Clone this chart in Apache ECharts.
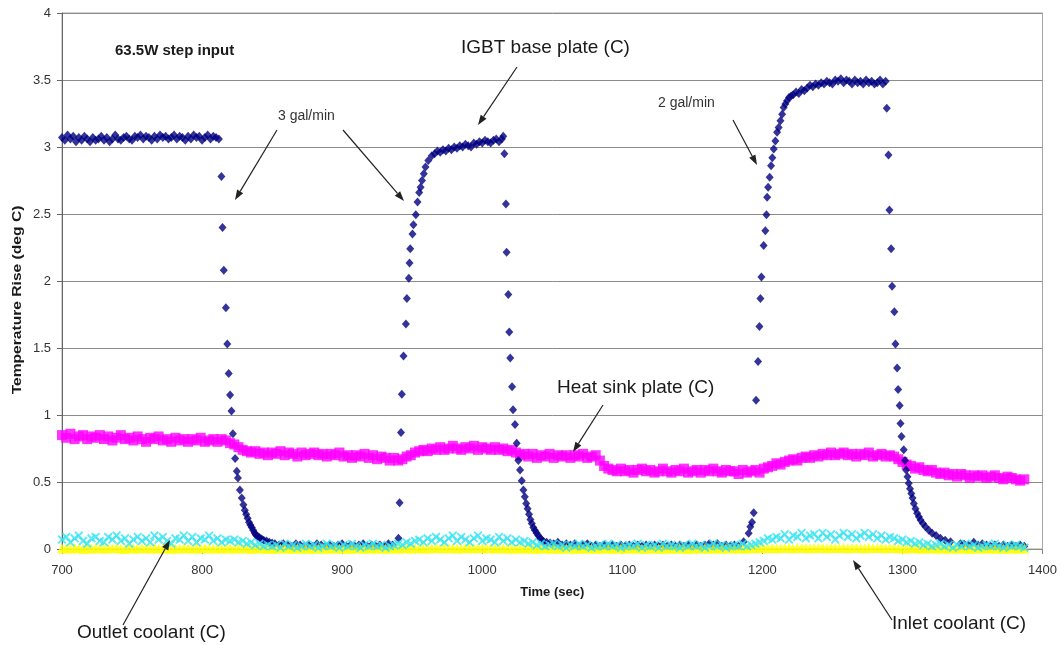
<!DOCTYPE html>
<html lang="en">
<head>
    <meta charset="UTF-8">
    <title>63.5W step input</title>
</head>
<body style="margin:0;background:#fff;">
<script src="https://cdn.jsdelivr.net/npm/echarts@6/dist/echarts.min.js"></script>

<div id="main" style="width: 1060px;height:645px;"></div>
<script type="text/javascript">

// x axis ticks (sec) and y axis ticks (deg C)
var timeTicks = [700, 800, 900, 1000, 1100, 1200, 1300, 1400];
var tempTicks = [0, 0.5, 1, 1.5, 2, 2.5, 3, 3.5, 4];

// IGBT base plate, [time, rise]
var igbtBase = [
    [700,3.07],[702,3.05],[704,3.09],[706,3.06],[708,3.08],[710,3.04],[712,3.07],[714,3.05],[716,3.08],[718,3.06],
    [720,3.04],[722,3.07],[724,3.05],[726,3.06],[728,3.08],[730,3.05],[732,3.07],[734,3.04],[736,3.06],[738,3.09],
    [740,3.06],[742,3.05],[744,3.07],[746,3.08],[748,3.06],[750,3.05],[752,3.08],[754,3.07],[756,3.09],[758,3.06],
    [760,3.08],[762,3.07],[764,3.05],[766,3.08],[768,3.06],[770,3.09],[772,3.07],[774,3.08],[776,3.06],[778,3.07],
    [780,3.09],[782,3.06],[784,3.08],[786,3.07],[788,3.05],[790,3.08],[792,3.06],[794,3.09],[796,3.07],[798,3.08],
    [800,3.05],[802,3.07],[804,3.09],[806,3.06],[808,3.08],[810,3.07],[812,3.06],
    [813.8,2.78],[814.6,2.40],[815.5,2.08],[817,1.80],[818,1.53],[819,1.31],[820,1.15],[821,1.03],[822,0.86],
    [823.6,0.675],[824.8,0.58],[825.6,0.53],[827,0.44],[828.3,0.38],[829.5,0.33],[830.5,0.29],[831.5,0.26],
    [832.5,0.23],[833.5,0.20],[834.5,0.18],[835.5,0.16],[836.5,0.14],[837.5,0.12],[838.5,0.105],[839.5,0.095],
    [841,0.085],[842.5,0.075],[844,0.065],[846,0.06],[848,0.05],[850,0.045],[852,0.04],
    [855,0.03],[858,0.04],[861,0.03],[864,0.02],[867,0.04],[870,0.03],[873,0.02],[876,0.03],[879,0.02],[882,0.04],
    [885,0.03],[888,0.02],[891,0.03],[894,0.02],[897,0.03],[900,0.04],[903,0.02],[906,0.03],[909,0.02],[912,0.03],
    [915,0.04],[918,0.02],[921,0.03],[924,0.02],[927,0.03],[930,0.02],[933,0.04],[936,0.03],
    [940.2,0.08],[941,0.345],[942,0.87],[942.6,1.155],[943.8,1.44],[945.5,1.68],[946.2,1.87],[947.6,2.02],
    [948.1,2.135],[948.6,2.24],[950.2,2.35],[950.9,2.42],[952.6,2.495],[953.8,2.59],[955,2.66],[956,2.70],
    [957,2.75],[958.3,2.80],[959.5,2.85],[961.5,2.90],[964,2.935],[966,2.95],[968,2.97],[970,2.96],[972,2.98],
    [974,2.97],[976,2.99],[978,2.98],[980,3.00],[982,2.99],[984,3.01],[986,3.00],[988,3.02],[990,3.01],[992,3.00],
    [994,3.03],[996,3.02],[998,3.04],[1000,3.03],[1002,3.05],[1004,3.04],[1006,3.03],[1008,3.05],[1010,3.06],
    [1012,3.04],[1014,3.06],[1015,3.08],
    [1015.8,2.95],[1016.9,2.575],[1017.4,2.215],[1018.6,1.90],[1019.3,1.62],[1020,1.425],[1021.3,1.21],[1022,1.04],
    [1023.4,0.93],[1024.6,0.79],[1025.8,0.66],[1027,0.59],[1028.2,0.51],[1029.4,0.44],[1030.4,0.39],[1031.4,0.34],
    [1032.4,0.30],[1033.4,0.26],[1034.4,0.22],[1035.4,0.19],[1036.5,0.16],[1037.6,0.14],[1038.8,0.12],[1040,0.10],
    [1041.4,0.08],[1042.8,0.065],[1044,0.055],[1046,0.05],[1048.5,0.045],
    [1051,0.04],[1054,0.05],[1057,0.03],[1060,0.04],[1063,0.03],[1066,0.04],[1069,0.02],[1072,0.03],[1075,0.04],
    [1078,0.02],[1081,0.03],[1084,0.02],[1087,0.03],[1090,0.02],[1093,0.03],[1096,0.02],[1099,0.03],[1102,0.02],
    [1105,0.03],[1108,0.02],[1111,0.03],[1114,0.02],[1117,0.03],[1120,0.02],[1123,0.03],[1126,0.02],[1129,0.03],
    [1132,0.02],[1135,0.03],[1138,0.02],[1141,0.03],[1144,0.02],[1147,0.03],[1150,0.02],[1153,0.03],[1156,0.02],
    [1159,0.03],[1162,0.04],[1165,0.03],[1168,0.04],[1171,0.02],[1174,0.03],[1177,0.02],[1180,0.03],[1183,0.02],
    [1186.6,0.055],[1190.2,0.117],[1191.4,0.166],[1192.6,0.20],[1193.8,0.27],[1195.5,1.11],[1196.9,1.40],
    [1197.9,1.66],[1198.6,1.87],[1199.3,2.03],[1200.9,2.265],[1202.1,2.375],[1202.9,2.495],[1203.4,2.625],
    [1204.1,2.70],[1205.2,2.775],[1206.2,2.86],[1207.1,2.92],[1208.1,2.985],[1209.3,3.045],[1210.5,3.11],
    [1211.6,3.145],[1212.9,3.195],[1214.1,3.245],[1215.2,3.295],[1216.4,3.32],[1217.6,3.345],[1219,3.37],[1220.5,3.38],
    [1222,3.39],[1224,3.41],[1226,3.40],[1228,3.43],[1230,3.42],[1232,3.44],[1234,3.46],[1236,3.45],[1238,3.47],
    [1240,3.46],[1242,3.48],[1244,3.47],[1246,3.49],[1248,3.48],[1250,3.47],[1252,3.50],[1254,3.49],[1256,3.51],
    [1258,3.48],[1260,3.50],[1262,3.49],[1264,3.47],[1266,3.50],[1268,3.48],[1270,3.49],[1272,3.47],[1274,3.50],
    [1276,3.48],[1278,3.49],[1280,3.47],[1282,3.48],[1284,3.50],[1286,3.47],[1288,3.49],
    [1288.8,3.29],[1290,2.94],[1290.7,2.53],[1291.9,2.24],[1292.6,1.96],[1294.2,1.77],[1295,1.53],[1296.2,1.35],
    [1296.9,1.19],[1298,1.07],[1298.6,0.936],[1299.3,0.84],[1300.9,0.74],[1301.8,0.66],[1302.6,0.59],[1303.6,0.54],
    [1304.5,0.49],[1305.4,0.45],[1306.3,0.415],[1307.2,0.38],[1308.1,0.34],[1309.3,0.30],[1310.5,0.266],
    [1311.7,0.24],[1312.9,0.216],[1314.6,0.19],[1316.4,0.166],[1318.8,0.14],[1321.2,0.117],[1324,0.10],
    [1327.1,0.08],[1330.5,0.065],[1334.3,0.055],[1341.4,0.04],[1350.9,0.05],
    [1344,0.035],[1347,0.03],[1354,0.03],[1357,0.04],[1360,0.03],[1363,0.02],[1366,0.03],[1369,0.02],
    [1372,0.03],[1375,0.02],[1378,0.03],[1381,0.02],[1384,0.03],[1387,0.02]
];

// the other three channels were logged every 3 s from 700 s
var logStart = 700;
var logStep = 3;

var heatSink = [
    0.85,0.83,0.86,0.82,0.84,0.85,0.82,0.84,0.83,0.85,
    0.82,0.84,0.81,0.83,0.85,0.82,0.83,0.81,0.84,0.82,
    0.80,0.83,0.82,0.84,0.81,0.82,0.80,0.83,0.81,0.82,
    0.80,0.82,0.81,0.83,0.80,0.81,0.82,0.80,0.82,0.81,
    0.79,0.78,0.76,0.74,0.73,0.72,0.73,0.71,0.72,0.70,
    0.72,0.71,0.73,0.70,0.72,0.71,0.69,0.72,0.70,0.71,
    0.72,0.70,0.71,0.69,0.71,0.70,0.72,0.69,0.70,0.68,
    0.70,0.69,0.71,0.68,0.70,0.67,0.69,0.68,0.66,0.68,
    0.66,0.67,0.69,0.70,0.72,0.73,0.74,0.73,0.75,0.74,
    0.76,0.74,0.75,0.77,0.75,0.74,0.76,0.75,0.77,0.74,
    0.76,0.75,0.74,0.76,0.74,0.75,0.73,0.74,0.72,0.70,
    0.71,0.69,0.71,0.68,0.70,0.69,0.71,0.68,0.70,0.69,
    0.70,0.68,0.70,0.69,0.71,0.68,0.69,0.70,0.66,0.62,
    0.60,0.59,0.58,0.60,0.58,0.59,0.57,0.59,0.60,0.58,
    0.59,0.57,0.58,0.60,0.58,0.57,0.59,0.58,0.60,0.57,
    0.58,0.59,0.57,0.59,0.58,0.60,0.58,0.57,0.59,0.58,
    0.58,0.56,0.59,0.57,0.58,0.59,0.57,0.60,0.61,0.62,
    0.64,0.63,0.65,0.66,0.67,0.66,0.68,0.69,0.68,0.70,
    0.69,0.71,0.70,0.72,0.70,0.71,0.72,0.70,0.71,0.69,
    0.71,0.70,0.72,0.69,0.70,0.71,0.69,0.70,0.69,0.67,
    0.65,0.63,0.62,0.60,0.61,0.59,0.58,0.59,0.57,0.56,
    0.57,0.55,0.56,0.54,0.56,0.55,0.53,0.55,0.54,0.55,
    0.53,0.54,0.55,0.53,0.52,0.54,0.53,0.52,0.51,0.52
];

var inletCoolant = [
    0.004,0.006,0.003,0.007,0.005,0.002,0.006,0.004,0.008,0.005,
    0.003,0.006,0.005,0.007,0.004,0.002,0.005,0.006,0.003,0.007,
    0.005,0.004,0.008,0.003,0.006,0.005,0.002,0.006,0.004,0.007,
    0.005,0.003,0.006,0.004,0.008,0.005,0.003,0.006,0.004,0.005,
    0.006,0.003,0.005,0.007,0.004,0.002,0.005,0.006,0.003,0.004,
    0.002,0.005,0.003,0.006,0.004,0.001,0.005,0.003,0.004,0.002,
    0.004,0.003,0.006,0.002,0.005,0.003,0.004,0.006,0.002,0.005,
    0.003,0.005,0.002,0.004,0.006,0.003,0.005,0.002,0.004,0.006,
    0.004,0.007,0.005,0.003,0.006,0.008,0.004,0.006,0.005,0.007,
    0.006,0.008,0.005,0.007,0.004,0.006,0.009,0.005,0.007,0.006,
    0.008,0.005,0.007,0.004,0.006,0.005,0.003,0.006,0.004,0.005,
    0.003,0.005,0.004,0.002,0.005,0.003,0.004,0.006,0.002,0.004,
    0.003,0.005,0.002,0.004,0.003,0.006,0.004,0.002,0.005,0.003,
    0.004,0.002,0.005,0.003,0.004,0.006,0.003,0.005,0.002,0.004,
    0.005,0.003,0.004,0.002,0.006,0.004,0.003,0.005,0.004,0.002,
    0.004,0.005,0.003,0.006,0.002,0.004,0.005,0.003,0.004,0.006,
    0.003,0.005,0.004,0.006,0.005,0.007,0.006,0.008,0.005,0.007,
    0.006,0.008,0.007,0.009,0.006,0.008,0.007,0.010,0.006,0.008,
    0.007,0.009,0.006,0.008,0.010,0.007,0.008,0.006,0.009,0.007,
    0.008,0.006,0.009,0.007,0.008,0.010,0.006,0.008,0.007,0.005,
    0.006,0.004,0.007,0.005,0.003,0.006,0.004,0.005,0.003,0.006,
    0.004,0.002,0.005,0.003,0.006,0.004,0.002,0.005,0.003,0.004,
    0.005,0.003,0.004,0.006,0.002,0.005,0.003,0.004,0.005,0.003
];

var outletCoolant = [
    0.07,0.09,0.05,0.08,0.10,0.06,0.04,0.08,0.09,0.06,
    0.05,0.09,0.07,0.10,0.06,0.08,0.04,0.07,0.09,0.06,
    0.08,0.05,0.10,0.07,0.09,0.06,0.04,0.08,0.07,0.10,
    0.06,0.09,0.05,0.08,0.07,0.10,0.06,0.08,0.05,0.07,
    0.06,0.07,0.05,0.06,0.04,0.05,0.03,0.04,0.02,0.03,
    0.02,0.03,0.01,0.04,0.02,0.03,0.01,0.02,0.04,0.02,
    0.03,0.01,0.02,0.04,0.02,0.03,0.01,0.03,0.02,0.04,
    0.02,0.01,0.03,0.02,0.04,0.02,0.03,0.01,0.02,0.03,
    0.04,0.03,0.05,0.04,0.06,0.07,0.05,0.08,0.06,0.09,
    0.07,0.05,0.08,0.10,0.06,0.09,0.07,0.05,0.08,0.10,
    0.06,0.08,0.07,0.05,0.09,0.06,0.08,0.05,0.07,0.05,
    0.06,0.04,0.05,0.03,0.04,0.02,0.03,0.04,0.02,0.03,
    0.01,0.03,0.02,0.04,0.02,0.03,0.01,0.02,0.03,0.02,
    0.04,0.02,0.03,0.01,0.02,0.03,0.02,0.04,0.01,0.03,
    0.02,0.03,0.01,0.04,0.02,0.03,0.02,0.01,0.03,0.02,
    0.04,0.02,0.03,0.01,0.02,0.04,0.02,0.03,0.01,0.02,
    0.03,0.02,0.04,0.02,0.03,0.04,0.05,0.06,0.08,0.07,
    0.09,0.08,0.11,0.07,0.10,0.09,0.12,0.08,0.10,0.11,
    0.08,0.12,0.09,0.11,0.07,0.10,0.12,0.09,0.11,0.08,
    0.10,0.12,0.09,0.11,0.08,0.10,0.07,0.09,0.08,0.06,
    0.07,0.05,0.06,0.04,0.05,0.03,0.04,0.02,0.03,0.04,
    0.02,0.03,0.01,0.03,0.02,0.04,0.02,0.03,0.01,0.02,
    0.03,0.02,0.04,0.02,0.01,0.03,0.02,0.03,0.02,0.01
];

function logged(values) {
    return values.map(function (v, i) { return [logStart + i * logStep, v]; });
}

var FONT = '"Liberation Sans", Arial, sans-serif';
var INK = '#1a1a1a';
var CROSS = 'path://M0,1.5L1.5,0L5,3.5L8.5,0L10,1.5L6.5,5L10,8.5L8.5,10L5,6.5L1.5,10L0,8.5L3.5,5Z';

// arrow = line + filled head, pixel coords
function arrow(x1, y1, x2, y2) {
    var a = Math.atan2(y2 - y1, x2 - x1), L = 10, W = 3.5;
    var bx = x2 - L * Math.cos(a), by = y2 - L * Math.sin(a);
    return [
        {type: 'line', shape: {x1: x1, y1: y1, x2: bx, y2: by}, style: {stroke: '#222', lineWidth: 1.2}, z: 100},
        {type: 'polygon', shape: {points: [[x2, y2], [bx + W * Math.sin(a), by - W * Math.cos(a)], [bx - W * Math.sin(a), by + W * Math.cos(a)]]},
            style: {fill: '#222'}, z: 100}
    ];
}

function label(text, x, y, size, weight, color) {
    return {
        type: 'text', x: x, y: y, z: 100,
        style: {text: text, fontSize: size, fontWeight: weight || 'normal', fontFamily: FONT,
            fill: color || INK, align: 'left', verticalAlign: 'middle'}
    };
}

var notes = [
    label('63.5W step input', 115, 51, 15, 'bold'),
    label('IGBT base plate (C)', 461, 48, 19, 'normal'),
    label('3 gal/min', 278, 116, 14, 'normal', '#333'),
    label('2 gal/min', 658, 103, 14, 'normal', '#333'),
    label('Heat sink plate (C)', 557, 388, 19, 'normal'),
    label('Outlet coolant (C)', 77, 633, 19, 'normal'),
    label('Inlet coolant (C)', 892, 624, 19, 'normal'),
    {
        type: 'text', x: 18, y: 300, rotation: Math.PI / 2, scaleX: 1.3, z: 100,
        style: {text: 'Temperature Rise (deg C)', fontSize: 12, fontWeight: 'bold', fontFamily: FONT,
            fill: INK, align: 'center', verticalAlign: 'middle'}
    }
].concat(
    arrow(277, 130, 235, 200),
    arrow(343, 130, 404, 201),
    arrow(517, 67, 478, 125),
    arrow(733, 120, 757, 165),
    arrow(603, 405, 573, 452),
    arrow(123, 625, 170, 540),
    arrow(892, 620, 853, 560)
);

var myChart = echarts.init(document.getElementById('main'));

myChart.setOption({
    backgroundColor: '#fff',
    animation: false,
    grid: {left: 62, right: 17, top: 13, bottom: 96, show: true, borderColor: '#a6a6a6', borderWidth: 1},
    xAxis: {
        type: 'value',
        min: timeTicks[0],
        max: timeTicks[timeTicks.length - 1],
        interval: 100,
        name: 'Time (sec)',
        nameLocation: 'middle',
        nameGap: 37,
        nameTextStyle: {fontFamily: FONT, fontSize: 13, fontWeight: 'bold', color: INK},
        axisLine: {lineStyle: {color: '#8a8a8a', width: 1}},
        axisTick: {length: 5, lineStyle: {color: '#8a8a8a'}},
        axisLabel: {fontFamily: FONT, fontSize: 13, color: '#333', margin: 15,
            formatter: function (v) { return String(v); }},
        splitLine: {show: false}
    },
    yAxis: {
        type: 'value',
        min: tempTicks[0],
        max: tempTicks[tempTicks.length - 1],
        interval: 0.5,
        axisLine: {show: true, lineStyle: {color: '#666', width: 1}},
        axisTick: {show: true, length: 5, lineStyle: {color: '#666'}},
        axisLabel: {fontFamily: FONT, fontSize: 13, color: '#333', margin: 11},
        splitLine: {lineStyle: {color: '#8c8c8c', width: 1}}
    },
    graphic: notes,
    series: [
        {
            name: 'Heat sink plate (C)',
            type: 'scatter',
            clip: false,
            symbol: 'rect',
            symbolSize: 10,
            itemStyle: {color: '#ff00ff'},
            data: logged(heatSink)
        },
        {
            name: 'IGBT base plate (C)',
            type: 'scatter',
            clip: false,
            symbol: 'diamond',
            symbolSize: [8, 9],
            itemStyle: {color: '#000080'},
            data: igbtBase
        },
        {
            name: 'Inlet coolant (C)',
            type: 'scatter',
            clip: false,
            symbol: 'triangle',
            symbolSize: 10,
            itemStyle: {color: '#ffff00'},
            data: logged(inletCoolant)
        },
        {
            name: 'Outlet coolant (C)',
            type: 'scatter',
            clip: false,
            symbol: CROSS,
            symbolSize: 9,
            itemStyle: {color: '#33e3f0'},
            data: logged(outletCoolant)
        }
    ]
});

</script>
</body>
</html>
